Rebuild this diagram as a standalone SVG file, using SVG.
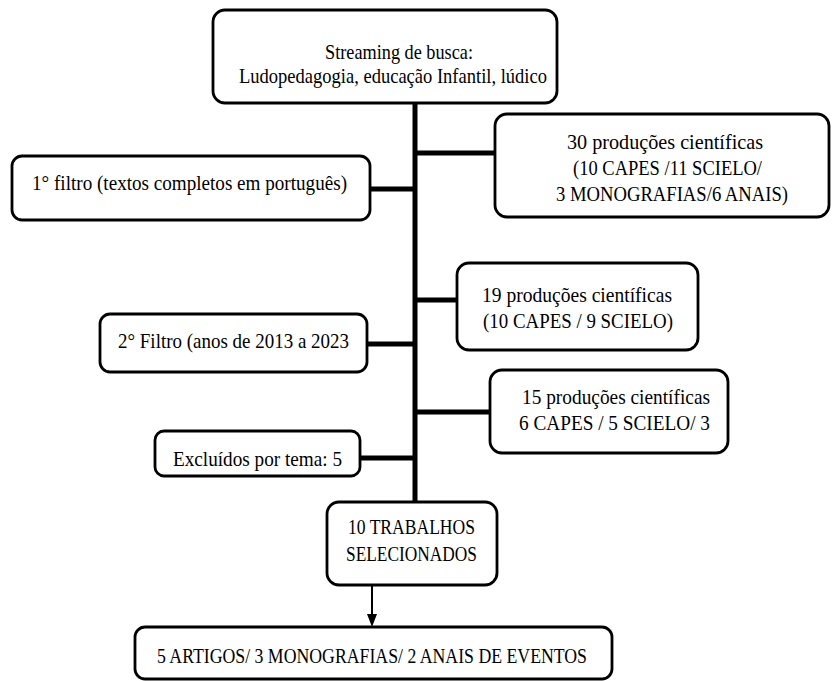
<svg xmlns="http://www.w3.org/2000/svg" width="832" height="681" viewBox="0 0 832 681">
<defs>
<style>
.box{fill:#fff;stroke:#000;stroke-width:2.8}
.t{font-family:"Liberation Serif","Times New Roman",serif;font-size:22px;fill:#000}
.c{stroke:#000;stroke-width:5;fill:none}
.a{stroke:#000;stroke-width:2;fill:none}
</style>
</defs>
<rect width="832" height="681" fill="#fff"/>
<g id="connectors">
<line class="c" x1="415" y1="103" x2="415" y2="502"/>
<line class="c" x1="415" y1="153" x2="495" y2="153"/>
<line class="c" x1="370" y1="189" x2="415" y2="189"/>
<line class="c" x1="415" y1="300" x2="457" y2="300"/>
<line class="c" x1="367" y1="344" x2="415" y2="344"/>
<line class="c" x1="415" y1="412" x2="490" y2="412"/>
<line class="c" x1="360" y1="458" x2="415" y2="458"/>
<line class="a" x1="372" y1="585" x2="372" y2="615"/>
<path d="M367,614 L377,614 L372,627 z" fill="#000"/>
</g>
<g id="n-busca">
<rect class="box" x="213" y="10" width="344" height="93" rx="12"/>
<text class="t" x="325" y="59" textLength="148" lengthAdjust="spacingAndGlyphs">Streaming de busca:</text>
<text class="t" x="239" y="83" textLength="308" lengthAdjust="spacingAndGlyphs">Ludopedagogia, educação Infantil, lúdico</text>
</g>
<g id="n-30">
<rect class="box" x="495" y="114" width="334" height="103" rx="12"/>
<text class="t" x="567" y="149" textLength="196" lengthAdjust="spacingAndGlyphs">30 produções científicas</text>
<text class="t" x="573" y="175" textLength="189" lengthAdjust="spacingAndGlyphs">(10 CAPES /11 SCIELO/</text>
<text class="t" x="556" y="201" textLength="232" lengthAdjust="spacingAndGlyphs">3 MONOGRAFIAS/6  ANAIS)</text>
</g>
<g id="n-filtro1">
<rect class="box" x="12" y="156" width="358" height="64" rx="10"/>
<text class="t" x="32" y="190" textLength="315" lengthAdjust="spacingAndGlyphs">1° filtro (textos completos em português)</text>
</g>
<g id="n-19">
<rect class="box" x="457" y="263" width="241" height="87" rx="12"/>
<text class="t" x="482" y="302" textLength="190" lengthAdjust="spacingAndGlyphs">19 produções científicas</text>
<text class="t" x="483" y="328" textLength="190" lengthAdjust="spacingAndGlyphs">(10 CAPES / 9 SCIELO)</text>
</g>
<g id="n-filtro2">
<rect class="box" x="100" y="314" width="267" height="58" rx="10"/>
<text class="t" x="118" y="348" textLength="231" lengthAdjust="spacingAndGlyphs">2° Filtro (anos de 2013 a 2023</text>
</g>
<g id="n-15">
<rect class="box" x="490" y="370" width="238" height="83" rx="12"/>
<text class="t" x="522" y="404" textLength="188" lengthAdjust="spacingAndGlyphs">15 produções científicas</text>
<text class="t" x="519" y="430" textLength="191" lengthAdjust="spacingAndGlyphs">6 CAPES / 5 SCIELO/ 3</text>
</g>
<g id="n-excluidos">
<rect class="box" x="155" y="431" width="205" height="45" rx="9"/>
<text class="t" x="173" y="466" textLength="169" lengthAdjust="spacingAndGlyphs">Excluídos por tema: 5</text>
</g>
<g id="n-selecionados">
<rect class="box" x="327" y="502" width="170" height="83" rx="12"/>
<text class="t" x="348" y="534" textLength="127" lengthAdjust="spacingAndGlyphs">10 TRABALHOS</text>
<text class="t" x="346" y="561" textLength="131" lengthAdjust="spacingAndGlyphs">SELECIONADOS</text>
</g>
<g id="n-resultado">
<rect class="box" x="135" y="627" width="477" height="52" rx="10"/>
<text class="t" x="157" y="663" textLength="430" lengthAdjust="spacingAndGlyphs">5 ARTIGOS/ 3 MONOGRAFIAS/ 2 ANAIS DE EVENTOS</text>
</g>
</svg>
